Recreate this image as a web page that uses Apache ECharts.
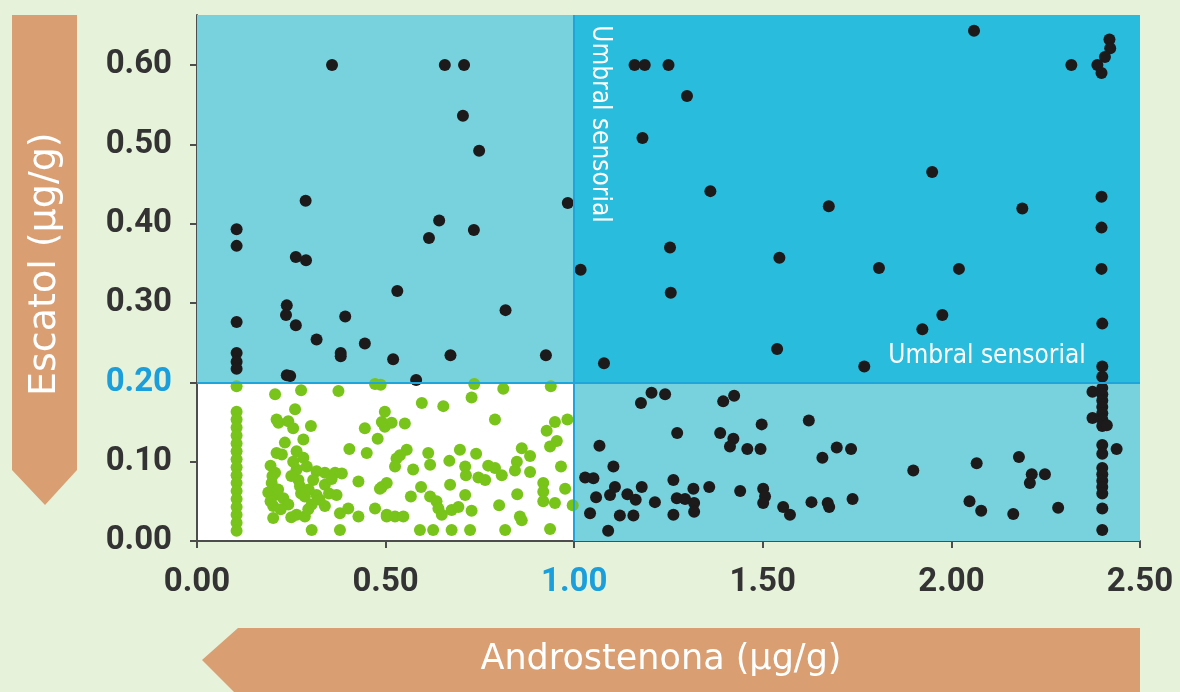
<!DOCTYPE html>
<html>
<head>
<meta charset="utf-8">
<script src="https://cdn.jsdelivr.net/npm/echarts@6/dist/echarts.min.js"></script>
<style>
html,body{margin:0;padding:0;background:#e7f2db;}
#chart{width:1180px;height:692px;}
</style>
</head>
<body>
<div id="chart"></div>
<script>
// ---- data (Androstenona µg/g, Escatol µg/g) ----
const xTicks = [0, 0.5, 1, 1.5, 2, 2.5];
const yTicks = [0, 0.1, 0.2, 0.3, 0.4, 0.5, 0.6];
const androThreshold = 1.0;
const escatolThreshold = 0.2;
const xMax = 2.5;
const yMax = 0.663;

const greenColumnY = [0.195,0.163,0.153,0.143,0.133,0.123,0.113,0.103,0.093,0.083,0.073,0.063,0.053,0.043,0.033,0.023,0.013];
const greenColumnX = 0.105;

const greenCluster = [
[0.207,0.185],[0.276,0.190],[0.375,0.189],[0.260,0.166],[0.211,0.153],[0.216,0.149],[0.242,0.151],[0.255,0.142],[0.302,0.145],
[0.233,0.124],[0.282,0.128],[0.211,0.111],[0.225,0.109],[0.264,0.113],[0.282,0.105],[0.291,0.094],[0.207,0.086],[0.264,0.090],
[0.317,0.088],[0.339,0.086],[0.366,0.086],[0.198,0.073],[0.269,0.077],[0.273,0.069],[0.308,0.077],[0.339,0.071],[0.189,0.061],
[0.207,0.058],[0.229,0.054],[0.286,0.056],[0.317,0.058],[0.370,0.058],[0.202,0.044],[0.242,0.046],[0.304,0.046],[0.339,0.044],
[0.202,0.029],[0.264,0.033],[0.286,0.031],[0.379,0.035],[0.304,0.014],[0.379,0.014],
[0.195,0.095],[0.200,0.082],[0.195,0.050],[0.215,0.065],[0.222,0.040],[0.255,0.100],[0.250,0.082],[0.276,0.060],[0.296,0.065],
[0.325,0.052],[0.350,0.060],[0.357,0.078],[0.295,0.040],[0.250,0.030]
];

const greenMiddle = [
[0.472,0.198],[0.487,0.197],[0.404,0.116],[0.445,0.142],[0.450,0.111],[0.479,0.129],[0.498,0.163],[0.498,0.144],[0.490,0.150],
[0.384,0.085],[0.428,0.075],[0.401,0.041],[0.428,0.031],[0.472,0.041],[0.490,0.068],[0.503,0.033]
];

const greenRight = [
[0.735,0.198],[0.812,0.192],[0.938,0.195],[0.728,0.181],[0.596,0.174],[0.653,0.170],[0.790,0.153],[0.516,0.149],[0.551,0.148],
[0.949,0.150],[0.982,0.153],[0.927,0.139],[0.954,0.126],[0.936,0.119],[0.556,0.115],[0.529,0.104],[0.538,0.108],[0.613,0.111],
[0.697,0.115],[0.740,0.110],[0.861,0.117],[0.883,0.107],[0.525,0.094],[0.573,0.090],[0.618,0.096],[0.669,0.101],[0.711,0.094],
[0.713,0.083],[0.772,0.095],[0.790,0.092],[0.808,0.083],[0.848,0.100],[0.843,0.089],[0.883,0.087],[0.965,0.094],[0.746,0.080],
[0.764,0.077],[0.503,0.073],[0.485,0.066],[0.594,0.068],[0.671,0.071],[0.918,0.073],[0.918,0.062],[0.976,0.066],[0.567,0.056],
[0.618,0.056],[0.635,0.050],[0.711,0.058],[0.849,0.059],[0.918,0.050],[0.949,0.048],[0.996,0.045],[0.640,0.041],[0.649,0.033],
[0.675,0.039],[0.693,0.043],[0.728,0.038],[0.801,0.045],[0.503,0.031],[0.525,0.031],[0.547,0.031],[0.856,0.031],[0.861,0.026],
[0.591,0.014],[0.626,0.014],[0.675,0.014],[0.724,0.014],[0.817,0.014],[0.936,0.015]
];

const blackTopLeft = [
[0.288,0.429],[0.105,0.393],[0.105,0.372],[0.262,0.358],[0.289,0.354],[0.105,0.276],[0.238,0.297],[0.236,0.285],[0.262,0.272],
[0.393,0.283],[0.317,0.254],[0.105,0.237],[0.105,0.226],[0.105,0.217],[0.381,0.237],[0.381,0.233],[0.445,0.249],[0.531,0.315],
[0.520,0.229],[0.238,0.209],[0.247,0.208],[0.581,0.203],[0.615,0.382],[0.642,0.404],[0.734,0.392],[0.818,0.291],[0.672,0.234],
[0.925,0.234],[0.983,0.426],[0.358,0.600],[0.657,0.600],[0.708,0.600],[0.705,0.536],[0.748,0.492]
];

const blackTopRight = [
[1.017,0.342],[1.160,0.600],[1.187,0.600],[1.250,0.600],[1.299,0.561],[1.181,0.508],[1.361,0.441],[1.675,0.422],[1.254,0.370],
[1.544,0.357],[1.808,0.344],[1.256,0.313],[2.060,0.643],[2.419,0.632],[2.421,0.621],[2.407,0.610],[2.387,0.600],[2.398,0.590],
[2.318,0.600],[1.949,0.465],[2.398,0.434],[2.188,0.419],[2.398,0.395],[2.020,0.343],[2.398,0.343],[1.976,0.285],[1.923,0.267],
[2.400,0.274],[1.538,0.242],[1.079,0.224],[1.769,0.220],[2.400,0.220],[2.400,0.207]
];

const blackColumnX = 2.400;
const blackColumnY = [0.193,0.185,0.177,0.169,0.161,0.153,0.145,0.121,0.110,0.092,0.084,0.076,0.068,0.060,0.041,0.014];

const blackBottomRight = [
[2.374,0.188],[2.374,0.155],[2.412,0.146],[2.438,0.116],
[1.899,0.089],[2.067,0.098],[2.179,0.106],[2.213,0.084],[2.248,0.084],[2.208,0.073],[2.048,0.050],[2.079,0.038],[2.164,0.034],[2.283,0.042],
[1.205,0.187],[1.241,0.185],[1.177,0.174],[1.395,0.176],[1.424,0.183],[1.497,0.147],[1.622,0.152],[1.273,0.136],[1.387,0.136],
[1.422,0.129],[1.413,0.119],[1.459,0.116],[1.494,0.116],[1.067,0.120],[1.658,0.105],[1.696,0.118],[1.734,0.116],[1.104,0.094],
[1.029,0.080],[1.051,0.079],[1.263,0.077],[1.179,0.068],[1.108,0.068],[1.095,0.058],[1.058,0.055],[1.141,0.059],[1.163,0.052],
[1.214,0.049],[1.316,0.066],[1.358,0.068],[1.440,0.063],[1.501,0.066],[1.506,0.056],[1.501,0.048],[1.272,0.054],[1.294,0.053],
[1.318,0.048],[1.318,0.037],[1.263,0.033],[1.042,0.035],[1.121,0.032],[1.157,0.032],[1.090,0.013],[1.554,0.043],[1.572,0.033],
[1.629,0.049],[1.672,0.048],[1.676,0.043],[1.738,0.053]
];

const xTitle = 'Androstenona (µg/g)';
const yTitle = 'Escatol (µg/g)';
const thresholdLabel = 'Umbral sensorial';

// ---- build ----
const greenData = greenColumnY.map(y => [greenColumnX, y]).concat(greenCluster, greenMiddle, greenRight);
const blackData = blackTopLeft.concat(blackTopRight, blackColumnY.map(y => [blackColumnX, y]), blackBottomRight);

const BLUE = '#1a9fdc';
const TICK_FONT = "Roboto, 'Liberation Sans', sans-serif";
const NARROW_FONT = "'DejaVu Sans Condensed', 'Liberation Sans', sans-serif";
const TITLE_FONT = "'DejaVu Sans', sans-serif";
const LIGHT = '#78d2de';
const BRIGHT = '#29bcdd';

const chart = echarts.init(document.getElementById('chart'), null, {renderer: 'canvas'});
chart.setOption({
  backgroundColor: '#e7f2db',
  animation: false,
  grid: {left: 197, top: 15, right: 40, bottom: 151, show: true, backgroundColor: '#ffffff', borderWidth: 0},
  xAxis: {
    type: 'value', min: 0, max: xMax, interval: 0.5,
    splitLine: {show: false},
    axisLine: {lineStyle: {color: '#4d4d4d', width: 2}},
    axisTick: {length: 7, lineStyle: {color: '#4d4d4d', width: 2}},
    axisLabel: {
      margin: 25, fontSize: 33, fontWeight: 'bold', fontFamily: TICK_FONT,
      formatter: v => v.toFixed(2),
      color: v => (Math.abs(v - androThreshold) < 1e-9 ? BLUE : '#333333')
    }
  },
  yAxis: {
    type: 'value', min: 0, max: yMax,
    splitLine: {show: false},
    axisLine: {lineStyle: {color: '#4d4d4d', width: 2}},
    axisTick: {length: 7, customValues: yTicks, lineStyle: {color: '#4d4d4d', width: 2}},
    axisLabel: {
      margin: 25, fontSize: 33, fontWeight: 'bold', fontFamily: TICK_FONT,
      customValues: yTicks,
      formatter: v => v.toFixed(2),
      color: v => (Math.abs(v - escatolThreshold) < 1e-9 ? BLUE : '#333333')
    }
  },
  series: [
    {
      type: 'scatter', data: [], z: 1, silent: true,
      markArea: {
        silent: true,
        label: {show: false},
        data: [
          [{xAxis: 0, yAxis: escatolThreshold, itemStyle: {color: LIGHT}}, {xAxis: androThreshold, yAxis: yMax}],
          [{xAxis: androThreshold, yAxis: escatolThreshold, itemStyle: {color: BRIGHT}}, {xAxis: xMax, yAxis: yMax}],
          [{xAxis: androThreshold, yAxis: 0, itemStyle: {color: LIGHT}}, {xAxis: xMax, yAxis: escatolThreshold}]
        ]
      },
      markLine: {
        silent: true, symbol: 'none',
        label: {show: false},
        lineStyle: {color: '#1ea5dc', width: 2, type: 'solid'},
        data: [{yAxis: escatolThreshold}, {xAxis: androThreshold}]
      }
    },
    {
      name: 'bajo', type: 'scatter', z: 3, symbolSize: 12,
      itemStyle: {color: '#78c41a', opacity: 1},
      data: greenData
    },
    {
      name: 'alto', type: 'scatter', z: 4, symbolSize: 12,
      itemStyle: {color: '#1c1a1a', opacity: 1},
      data: blackData
    }
  ],
  graphic: [
    {type: 'polygon', silent: true, shape: {points: [[12,15],[77,15],[77,470],[45,505],[12,470]]}, style: {fill: '#d99e72'}},
    {type: 'text', silent: true, x: 45, y: 396, rotation: Math.PI / 2,
      style: {text: yTitle, fill: '#ffffff', font: '38px ' + TITLE_FONT, align: 'left', verticalAlign: 'middle'}},
    {type: 'polygon', silent: true, shape: {points: [[238,628],[1140,628],[1140,696],[238,696],[202,660]]}, style: {fill: '#d99e72'}},
    {type: 'text', silent: true, x: 661, y: 660,
      style: {text: xTitle, fill: '#ffffff', font: '35px ' + TITLE_FONT, align: 'center', verticalAlign: 'middle'}},
    {type: 'text', silent: true, x: 600, y: 124, rotation: -Math.PI / 2, z: 10,
      style: {text: thresholdLabel, fill: '#ffffff', font: '26px ' + NARROW_FONT, align: 'center', verticalAlign: 'middle'}},
    {type: 'text', silent: true, x: 987, y: 356, z: 10,
      style: {text: thresholdLabel, fill: '#ffffff', font: '26px ' + NARROW_FONT, align: 'center', verticalAlign: 'middle'}}
  ]
});
</script>
</body>
</html>
